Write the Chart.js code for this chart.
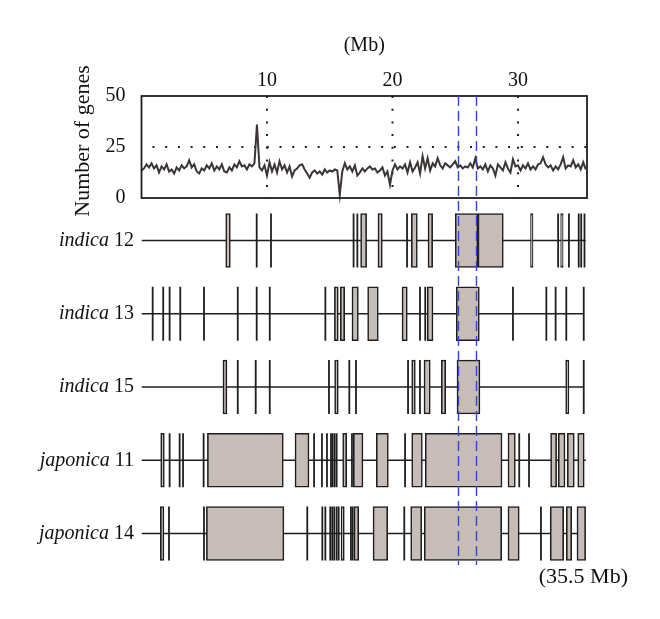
<!DOCTYPE html>
<html>
<head>
<meta charset="utf-8">
<script src="https://cdn.jsdelivr.net/npm/chart.js@4"></script>
<style>
  body { margin: 0; background: #fff; }
  canvas { display: block; }
</style>
</head>
<body>
<canvas id="chr12" width="660" height="619"></canvas>
<script>
// chromosome 12, gene counts per 0.2 Mb window
const chromLengthMb = 35.5;
const binMb = 0.2;
const geneCounts = [
  13.5, 14.5, 16.5, 15.0, 17.0, 14.5, 16.0, 12.5, 15.5, 14.0,
  16.5, 13.0, 14.0, 12.0, 15.0, 13.5, 16.0, 14.5, 15.5, 18.5,
  15.0, 16.5, 13.0, 12.0, 14.5, 13.5, 16.0, 14.5, 17.0, 13.5,
  15.5, 14.0, 16.5, 13.0, 12.5, 15.0, 13.5, 16.5, 15.0, 18.0,
  15.5, 16.0, 14.0, 16.5, 15.5, 17.0, 36.0, 15.0, 13.5, 16.0,
  11.0, 17.5, 13.0, 16.5, 12.5, 18.0, 14.0, 16.0, 12.5, 15.5,
  10.5, 13.5, 14.5, 16.0, 16.5, 14.0, 12.0, 10.0, 12.5, 13.5,
  12.0, 13.0, 11.5, 14.0, 12.5, 13.5, 13.0, 14.0, 13.5, 1.5,
  13.0, 17.0, 14.0, 15.5, 13.0, 16.0, 11.0, 12.5, 14.5, 13.0,
  14.5, 15.5, 14.0, 14.5, 12.5, 13.5, 15.0, 11.0, 13.0, 6.5,
  13.5, 16.5, 14.0, 15.5, 14.5, 16.5, 12.5, 17.5, 13.0, 15.0,
  17.5, 12.0, 20.5, 14.5, 19.5, 13.5, 17.0, 15.5, 19.5, 16.0,
  14.5, 17.0, 16.0, 15.0, 16.5, 18.0, 15.0, 16.0, 14.5, 15.5,
  15.0, 17.0, 15.0, 19.5, 14.5, 15.5, 14.0, 16.5, 13.0, 16.0,
  14.5, 11.0, 16.5, 15.0, 13.5, 17.5, 14.5, 12.5, 19.0, 15.5,
  16.0, 13.5, 16.0, 14.5, 17.0, 14.0, 15.5, 14.0, 16.5, 17.0,
  20.0, 16.5, 15.0, 16.0, 13.5, 15.5, 14.0, 16.5, 20.0, 14.5,
  16.0, 15.5, 18.5, 15.0, 16.5, 14.0, 17.5, 14.0
];
const xTickMb = [10, 20, 30];
const geneTicks = [0, 25, 50];
const geneRefLine = 25;
const regionMb = [25.2, 26.65];

// lines (accessions)
const trackNames = [['indica', '12'], ['indica', '13'], ['indica', '15'], ['japonica', '11'], ['japonica', '14']];
const trackEndMb = [35.4, 35.26, 35.26, 35.4, 35.4];

const indica12Boxes = [[6.71, 7.08], [17.46, 17.94], [18.84, 19.19], [21.5, 21.98], [22.83, 23.2],
  [25.0, 26.81], [26.81, 28.83], [31.0, 31.2], [33.4, 33.6]];
const indica12Lines = [9.18, 10.32, 16.9, 17.2, 21.16, 33.2, 34.06, 34.84, 35.04, 35.3];

const indica13Boxes = [[15.37, 15.68], [15.84, 16.19], [16.77, 17.28], [18.02, 18.87], [20.76, 21.18],
  [22.77, 23.23], [25.08, 26.92]];
const indica13Lines = [0.89, 1.73, 2.24, 3.09, 4.98, 7.67, 9.18, 10.22, 14.65, 22.19, 22.61, 29.6,
  32.26, 33.0, 33.85, 35.24];

const indica15Boxes = [[6.49, 6.81], [15.39, 15.68], [21.53, 21.82], [22.51, 23.01], [23.89, 24.24],
  [25.14, 26.97], [33.8, 34.06]];
const indica15Lines = [7.67, 9.1, 10.22, 14.94, 16.56, 17.09, 21.24, 22.19, 35.24];

const japonica11Boxes = [[1.53, 1.82], [5.25, 11.3], [12.23, 13.35], [16.03, 16.35], [16.88, 17.65],
  [18.71, 19.67], [21.53, 22.38], [22.61, 28.73], [29.2, 29.79], [32.6, 33.08], [33.21, 33.75],
  [33.93, 34.49], [34.76, 35.28]];
const japonica11Lines = [2.24, 3.04, 3.31, 4.95, 13.75, 14.38, 14.78, 15.1, 15.23, 15.39, 15.55,
  16.77, 21.0, 30.1, 30.88];

const japonica14Boxes = [[1.5, 1.79], [5.17, 11.35], [15.9, 16.16], [16.93, 17.31], [18.45, 19.62],
  [21.45, 22.33], [22.53, 28.7], [29.2, 30.1], [32.57, 33.64], [33.85, 34.28], [34.7, 35.39]];
const japonica14Lines = [2.19, 4.98, 13.21, 14.41, 14.65, 15.04, 15.2, 15.36, 15.55, 15.71, 16.69,
  16.83, 20.94, 31.83];

const trackBoxes = [indica12Boxes, indica13Boxes, indica15Boxes, japonica11Boxes, japonica14Boxes];
const trackLines = [indica12Lines, indica13Lines, indica15Lines, japonica11Lines, japonica14Lines];

const serif = '"Liberation Serif", "DejaVu Serif", serif';
const ink = '#1e1e1e';

const datasets = [];

datasets.push({
  type: 'line',
  data: geneCounts.map((v, i) => ({ x: i * binMb, y: v })),
  xAxisID: 'x', yAxisID: 'yG',
  borderColor: '#3b3534', borderWidth: 2, pointRadius: 0, tension: 0, order: 3
});

// dotted guides in the gene panel
datasets.push({
  type: 'line',
  data: [{ x: 0, y: geneRefLine }, { x: chromLengthMb, y: geneRefLine }],
  xAxisID: 'x', yAxisID: 'yG',
  borderColor: ink, borderWidth: 2, borderDash: [2, 10.7], borderDashOffset: 1.7,
  pointRadius: 0, order: 4
});
xTickMb.forEach(m => {
  datasets.push({
    type: 'line',
    data: [{ x: m, y: geneTicks[2] }, { x: m, y: geneTicks[0] }],
    xAxisID: 'x', yAxisID: 'yG',
    borderColor: ink, borderWidth: 2, borderDash: [2, 10.7],
    pointRadius: 0, order: 4
  });
});

// chromosome baselines
trackEndMb.forEach((end, t) => {
  datasets.push({
    type: 'line',
    data: [{ x: 0, y: t }, { x: end, y: t }],
    xAxisID: 'x', yAxisID: 'yT',
    borderColor: ink, borderWidth: 1.6, pointRadius: 0, order: 5
  });
});

datasets.push({
  type: 'bar',
  indexAxis: 'y',
  data: trackBoxes.flatMap((boxes, t) => boxes.map(b => ({ y: t, x: b }))),
  xAxisID: 'x', yAxisID: 'yT',
  backgroundColor: '#c6bdb9', borderColor: ink, borderWidth: 1.6,
  borderSkipped: false, barThickness: 54, grouped: false, order: 2
});

datasets.push({
  type: 'scatter',
  data: trackLines.flatMap((lines, t) => lines.map(p => ({ x: p, y: t }))),
  xAxisID: 'x', yAxisID: 'yT',
  pointStyle: 'line', pointRotation: 90, pointRadius: 27,
  pointBorderColor: ink, pointBorderWidth: 1.8, showLine: false, order: 1
});

const decor = {
  id: 'decor',
  afterDatasetsDraw(chart) {
    const { ctx, scales, chartArea } = chart;
    const x = scales.x, yG = scales.yG, yT = scales.yT;
    const left = x.getPixelForValue(0), right = x.getPixelForValue(chromLengthMb);
    const top = yG.getPixelForValue(geneTicks[2]), bottom = yG.getPixelForValue(geneTicks[0]);

    ctx.save();
    // gene panel frame
    ctx.strokeStyle = ink;
    ctx.lineWidth = 1.8;
    ctx.strokeRect(left, top, right - left, bottom - top);

    // region of interest
    ctx.strokeStyle = '#3446c4';
    ctx.lineWidth = 1.4;
    ctx.setLineDash([10, 5]);
    regionMb.forEach(m => {
      const px = Math.round(x.getPixelForValue(m)) + 0.5;
      ctx.beginPath();
      ctx.moveTo(px, top);
      ctx.lineTo(px, chartArea.bottom + 3);
      ctx.stroke();
    });
    ctx.setLineDash([]);

    // line names, group part in italics
    ctx.fillStyle = '#111';
    ctx.textBaseline = 'middle';
    ctx.textAlign = 'left';
    trackNames.forEach(([group, num], t) => {
      const py = yT.getPixelForValue(t);
      ctx.font = 'italic 20px ' + serif;
      const wi = ctx.measureText(group + ' ').width;
      ctx.font = '20px ' + serif;
      const wn = ctx.measureText(num).width;
      const x0 = 134 - wi - wn;
      ctx.font = 'italic 20px ' + serif;
      ctx.fillText(group + ' ', x0, py);
      ctx.font = '20px ' + serif;
      ctx.fillText(num, x0 + wi, py);
    });

    // y title for the gene panel
    ctx.save();
    ctx.translate(83, (top + bottom) / 2 - 6);
    ctx.rotate(-Math.PI / 2);
    ctx.textAlign = 'center';
    ctx.font = '22px ' + serif;
    ctx.fillText('Number of genes', 0, 0);
    ctx.restore();

    // chromosome length note
    ctx.textAlign = 'right';
    ctx.font = '22px ' + serif;
    ctx.fillText('(' + chromLengthMb + ' Mb)', 628, chartArea.bottom + 15);
    ctx.restore();
  }
};

new Chart(document.getElementById('chr12'), {
  data: { datasets },
  options: {
    responsive: false,
    animation: false,
    layout: { padding: { left: 91.5, right: 73, top: 34, bottom: 57 } },
    plugins: { legend: { display: false }, tooltip: { enabled: false } },
    scales: {
      x: {
        type: 'linear',
        position: 'top',
        min: 0,
        max: chromLengthMb,
        offset: false,
        afterBuildTicks: s => { s.ticks = xTickMb.map(v => ({ value: v })); },
        afterFit: s => { s.height = 62; },
        grid: { display: false },
        border: { display: false },
        ticks: { color: '#111', font: { family: serif, size: 20 }, padding: -5, maxRotation: 0 },
        title: { display: true, text: '(Mb)', color: '#111', font: { family: serif, size: 20 }, padding: { top: 0, bottom: 0 } }
      },
      yG: {
        type: 'linear',
        position: 'left',
        min: -178.4,
        max: 50,
        offset: false,
        afterBuildTicks: s => { s.ticks = geneTicks.map(v => ({ value: v })); },
        afterFit: s => { s.width = 50; },
        grid: { display: false },
        border: { display: false },
        ticks: { color: '#111', font: { family: serif, size: 20 }, padding: 8 }
      },
      yT: {
        type: 'linear',
        display: false,
        reverse: true,
        offset: false,
        min: -1.973,
        max: 4.389
      }
    }
  },
  plugins: [decor]
});
</script>
</body>
</html>
